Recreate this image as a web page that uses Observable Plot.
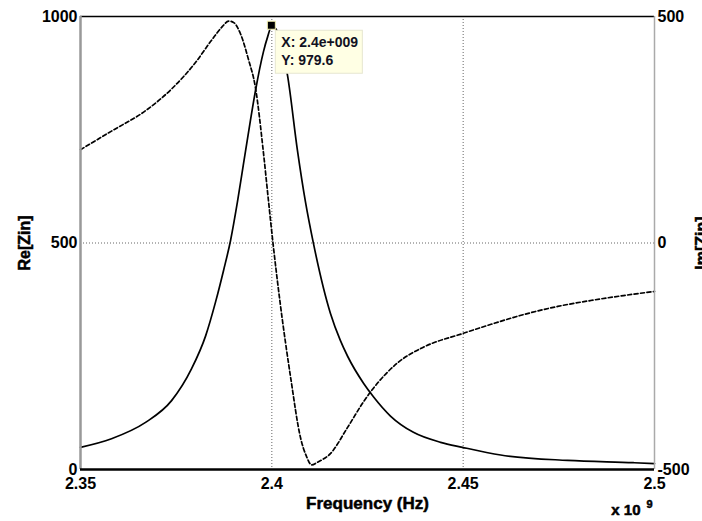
<!DOCTYPE html>
<html><head><meta charset="utf-8">
<script src="https://cdn.jsdelivr.net/npm/d3@7"></script>
<script src="https://cdn.jsdelivr.net/npm/@observablehq/plot@0.6"></script>
<style>
body{margin:0;background:#fff;}
#chart{width:702px;height:521px;overflow:hidden;}
</style></head><body><div id="chart"></div>
<script>
// Frequency in units of 1e9 Hz
const reFreq = [2.3500,2.3581,2.3670,2.3738,2.3790,2.3827,2.3853,2.3874,2.3892,2.3910,2.3926,2.3944,2.3957,2.3978,2.3989,2.4000,2.4015,2.4028,2.4041,2.4067,2.4088,2.4109,2.4153,2.4179,2.4198,2.4240,2.4266,2.4310,2.4370,2.4441,2.4498,2.4598,2.4773,2.4945,2.5000];
const reVals = [49,68,104,152,222,295,370,440,505,590,675,770,835,922,955,979.6,966,926,870,704,590,498,345,285,250,190,160,118,82,60,49,32,20,15,13];
const imFreq = [2.3500,2.3581,2.3670,2.3738,2.3801,2.3842,2.3871,2.3887,2.3900,2.3918,2.3939,2.3957,2.3978,2.3991,2.4003,2.4022,2.4049,2.4075,2.4091,2.4104,2.4119,2.4153,2.4198,2.4240,2.4266,2.4328,2.4396,2.4498,2.4571,2.4658,2.4747,2.4833,2.4919,2.5000];
const imVals = [206,247,292,340,399,447,478,490,487,462,405,344,200,95,0,-134,-296,-430,-472,-490,-484,-465,-407,-350,-320,-265,-230,-200,-180,-158,-140,-127,-116,-107];
const xTicks = [2.35, 2.4, 2.45, 2.5];
const xTickLabels = ["2.35", "2.4", "2.45", "2.5"];
const leftTicks = [0, 500, 1000];
const rightTicks = [-500, 0, 500];
const xGrid = [2.4, 2.45];
const yGrid = [500];
const datatip = {x: 2.4, y: 979.6, lines: ["X: 2.4e+009", "Y: 979.6"]};
const xLabel = "Frequency (Hz)";
const yLeftLabel = "Re[Zin]";
const yRightLabel = "Im[Zin]";

const re = reFreq.map((f, i) => ({f, v: reVals[i]}));
const im = imFreq.map((f, i) => ({f, v: imVals[i]}));
const imToLeft = v => v + 500; // right axis [-500,500] shares the frame with left [0,1000]

const font = "'Liberation Sans', Arial, Helvetica, sans-serif";
const bold = {fontWeight: "bold", fill: "#000", stroke: "#000", strokeWidth: 0.5};

const plot = Plot.plot({
  width: 702, height: 521,
  marginLeft: 80, marginRight: 48, marginTop: 16, marginBottom: 52,
  style: {fontFamily: font, background: "white", overflow: "visible"},
  x: {domain: [2.35, 2.5]},
  y: {domain: [0, 1000]},
  marks: [
    Plot.ruleX(xGrid, {stroke: "#666", strokeWidth: 1, strokeDasharray: "1,2"}),
    Plot.ruleY(yGrid, {stroke: "#666", strokeWidth: 1, strokeDasharray: "1,2"}),
    Plot.line(re, {x: "f", y: "v", stroke: "#000", strokeWidth: 1.7, curve: "monotone-x"}),
    Plot.line(im, {x: "f", y: d => imToLeft(d.v), stroke: "#000", strokeWidth: 1.7, strokeDasharray: "4,2.5", curve: "monotone-x"}),
    Plot.ruleY([1000], {stroke: "#000", strokeWidth: 1.3}),
    Plot.ruleX([2.5], {stroke: "#aaa", strokeWidth: 1.5}),
    Plot.ruleX([2.35], {stroke: "#999", strokeWidth: 2.5}),
    Plot.ruleY([0], {stroke: "#000", strokeWidth: 2.5}),
    Plot.axisX(xTicks, {anchor: "bottom", tickSize: 0, tickPadding: 8, label: null, fontSize: 16, tickFormat: (d, i) => xTickLabels[i], ...bold}),
    Plot.axisY(leftTicks, {anchor: "left", tickSize: 0, tickPadding: 3, label: null, fontSize: 16, tickFormat: d => String(d), ...bold}),
    Plot.axisY(rightTicks.map(imToLeft), {anchor: "right", tickSize: 0, tickPadding: 3, label: null, fontSize: 16, tickFormat: (d, i) => String(rightTicks[i]), ...bold}),
    Plot.text([xLabel], {frameAnchor: "bottom", dy: 39, text: d => d, fontSize: 17, ...bold}),
    Plot.text([yLeftLabel], {frameAnchor: "left", dx: -56, rotate: -90, textAnchor: "middle", text: d => d, fontSize: 16, ...bold}),
    Plot.text([yRightLabel], {frameAnchor: "right", dx: 47, rotate: -90, textAnchor: "middle", text: d => d, fontSize: 16, ...bold}),
    Plot.text(["x 10"], {frameAnchor: "bottom-right", dx: -14, dy: 45, textAnchor: "end", text: d => d, fontSize: 15, ...bold}),
    Plot.text(["9"], {frameAnchor: "bottom-right", dx: -8, dy: 38, textAnchor: "start", text: d => d, fontSize: 11, ...bold})
  ]
});
document.getElementById("chart").appendChild(plot);

// Data tip (MATLAB style), anchored to the data point through the scales
const sx = plot.scale("x"), sy = plot.scale("y");
const px = sx.apply(datatip.x), py = sy.apply(datatip.y);
const svg = d3.select(plot);
const g = svg.append("g").attr("text-anchor", "start");
g.append("rect").attr("x", px + 4).attr("y", py + 5).attr("width", 87).attr("height", 43)
  .attr("fill", "#ffffe4").attr("stroke", "#e6e6d0").attr("stroke-width", 1);
datatip.lines.forEach((t, i) => {
  g.append("text").attr("x", px + 10).attr("y", py + 18 + i * 18)
    .attr("dominant-baseline", "middle").attr("text-anchor", "start")
    .attr("font-family", font).attr("font-size", 14).attr("font-weight", "bold")
    .attr("fill", "#111122").text(t);
});
g.append("rect").attr("x", px - 4).attr("y", py - 4).attr("width", 8).attr("height", 8)
  .attr("fill", "#000").attr("stroke", "#f4f0b0").attr("stroke-width", 1);
</script></body></html>
